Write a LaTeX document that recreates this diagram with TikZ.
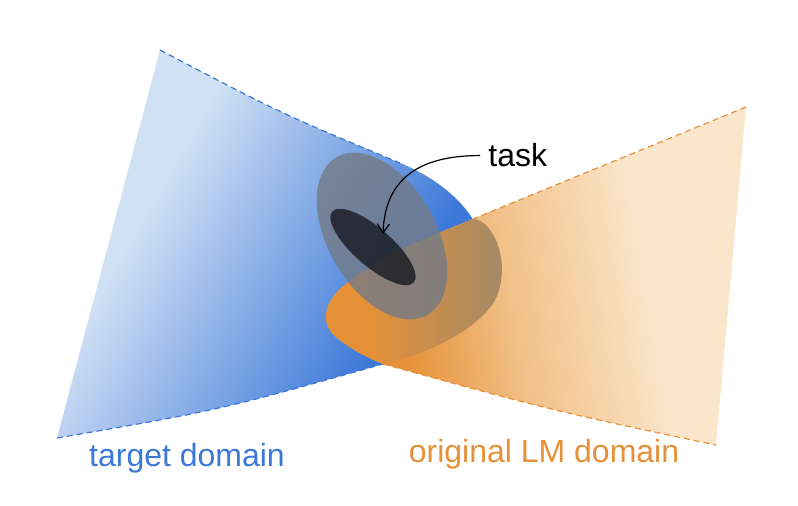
\documentclass[tikz,border=0pt]{standalone}
\usepackage{fontspec}
\setmainfont{Liberation Sans}
\usepackage{xcolor}
\usepackage{tikz}
\usetikzlibrary{arrows.meta}
\definecolor{bluedeep}{HTML}{3C78D8}
\definecolor{bluepale}{HTML}{D0E0F5}
\definecolor{orangedeep}{HTML}{E69138}
\definecolor{orangemid}{HTML}{F1C188}
\definecolor{orangepale}{HTML}{FBE6CB}
\definecolor{capbrown}{HTML}{A38A68}
\definecolor{slate}{HTML}{737A86}
\definecolor{core}{HTML}{10121A}
\pgfdeclarehorizontalshading{bluefade}{100bp}{color(0bp)=(bluepale); color(35bp)=(bluepale); color(68bp)=(bluedeep); color(100bp)=(bluedeep)}
\pgfdeclarehorizontalshading{orangefade}{100bp}{color(0bp)=(orangedeep); color(33bp)=(orangedeep); color(47bp)=(orangemid); color(64bp)=(orangepale); color(100bp)=(orangepale)}
\pgfdeclarehorizontalshading{capfade}{100bp}{color(0bp)=(orangedeep); color(38bp)=(orangedeep); color(75bp)=(capbrown); color(100bp)=(capbrown)}
\tikzset{
rim/.style={line width=0.6pt, dash pattern=on 3pt off 2pt},
domaintext/.style={anchor=base, inner sep=0pt, font=\fontsize{16}{19}\selectfont}
}

\begin{document}
\begin{tikzpicture}[x=0.5pt,y=-0.5pt]
\useasboundingbox (0,0) rectangle (798,506);
\coordinate (b1) at (160,50);
\coordinate (b2) at (400,163);
\coordinate (b3) at (472,218);
\coordinate (b4) at (57,438);
\coordinate (o1) at (746,107);
\coordinate (o2) at (473,219);
\coordinate (o3) at (383,364);
\coordinate (o4) at (716,445);
\coordinate (hit) at (383,234);
\shade[shading=bluefade, shading angle=-30] (b1) .. controls (280,113) .. (b2) .. controls (432,176) and (458,196) .. (b3) -- (482,240) -- (o3) .. controls (220,410) .. (b4) -- cycle;
\draw[rim, bluedeep] (b1) .. controls (280,113) .. (b2);
\draw[rim, bluedeep] (b4) .. controls (220,410) .. (o3);
\shade[shading=orangefade, shading angle=10] (o2) .. controls (420,240) and (380,258) .. (350,281) .. controls (325,298) and (318,322) .. (336,337) .. controls (352,350) and (368,358) .. (o3) .. controls (550,410) .. (o4) -- (o1) -- cycle;
\shade[shading=capfade] (o2) .. controls (420,240) and (380,258) .. (350,281) .. controls (325,298) and (318,322) .. (336,337) .. controls (352,350) and (368,358) .. (o3) .. controls (420,356) and (470,335) .. (492,305) .. controls (506,285) and (505,250) .. (490,230) .. controls (484,222) and (478,219) .. (o2) -- cycle;
\draw[rim, orangedeep] (o1) -- (o2);
\draw[rim, orangedeep] (o3) .. controls (550,410) .. (o4);
\fill[slate, opacity=0.8] (382,236) ellipse [x radius=54, y radius=91, rotate=30];
\fill[core, opacity=0.75] (373,247) ellipse [x radius=54, y radius=19, rotate=-41];
\node[anchor=base west, inner sep=0pt, font=\fontsize{16}{19}\selectfont] (task) at (488,167) {task};
\draw[-{Straight Barb[length=4.5pt,width=6pt]}, line width=0.6pt] ([xshift=-4pt]task.west) .. controls +(-60,0) and +(2,-56) .. (hit);
\node[domaintext, bluedeep] (target) at (187,467) {target domain};
\node[domaintext, orangedeep] (source) at (544,463) {original LM domain};
\end{tikzpicture}
\end{document}
